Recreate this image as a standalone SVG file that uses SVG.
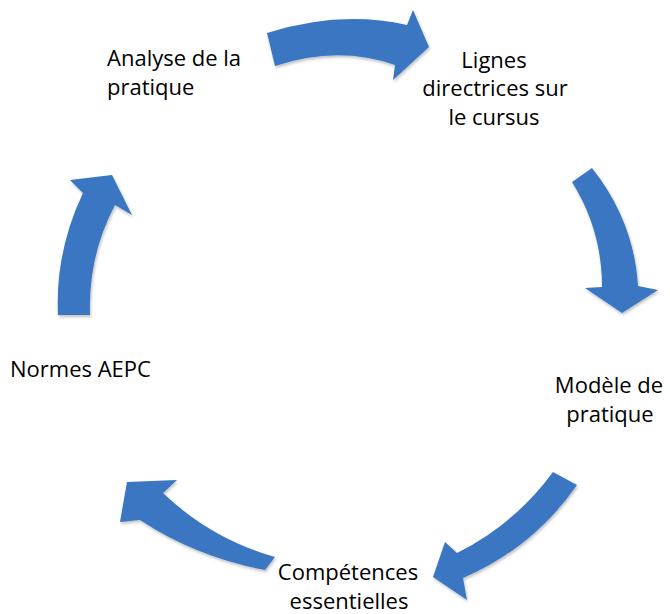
<svg xmlns="http://www.w3.org/2000/svg" width="670" height="614" viewBox="0 0 670 614">
  <defs>
    <style>
      .lbl { font-family: "Open Sans", "Liberation Sans", sans-serif; font-size: 22px; fill: #000; }
      .mid { text-anchor: middle; }
      .arrow { fill: #3a76c2; }
    </style>
    <filter id="sh" x="-10%" y="-10%" width="120%" height="120%">
      <feDropShadow dx="1" dy="2" stdDeviation="1.5" flood-color="#000" flood-opacity="0.25"/>
    </filter>
  </defs>
  <rect width="670" height="614" fill="#fff"/>

  <g id="connectors" filter="url(#sh)">
    <path class="arrow" d="M267,33 Q340,10 407,25 L413,10 L429,47 L393,80 L395,65 Q338,45 275,66 Z"/>
    <path class="arrow" d="M572,182 L592,168 Q634,221 638,286 L658,290 L622,313 L585,288 L602,287 Q602,230 572,182 Z"/>
    <path class="arrow" d="M553,472 L577,485 Q533,548 463,578 L467,600 L433,577 L445,542 L457,553 Q515,524 553,472 Z"/>
    <path class="arrow" d="M275,557 L265,570 Q196,557 140,520 L120,522 L127,482 L177,480 L163,493 Q211,539 275,557 Z"/>
    <path class="arrow" d="M58,315 Q55,252 83,193 L70,180 L112,175 L132,215 L115,205 Q88,256 90,315 Z"/>
  </g>

  <g id="analyse">
    <text class="lbl" x="107" y="66">Analyse de la</text>
    <text class="lbl" x="107" y="95">pratique</text>
  </g>
  <g id="lignes">
    <text class="lbl mid" x="494" y="68">Lignes</text>
    <text class="lbl mid" x="495" y="96">directrices sur</text>
    <text class="lbl mid" x="494" y="125">le cursus</text>
  </g>
  <g id="modele">
    <text class="lbl mid" x="609" y="393">Modèle de</text>
    <text class="lbl mid" x="610" y="422">pratique</text>
  </g>
  <g id="competences">
    <text class="lbl mid" x="348" y="580">Compétences</text>
    <text class="lbl mid" x="349" y="609">essentielles</text>
  </g>
  <g id="normes">
    <text class="lbl" x="10" y="377">Normes AEPC</text>
  </g>
</svg>
